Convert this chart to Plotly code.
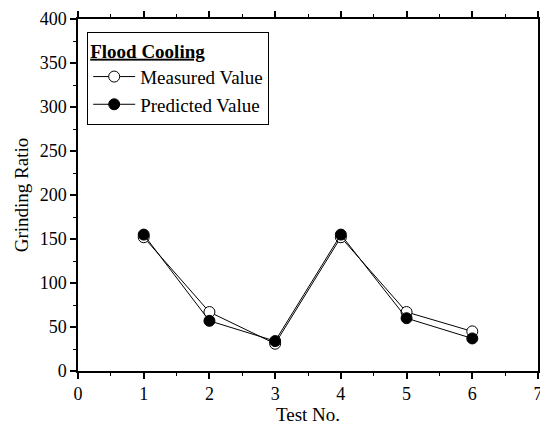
import plotly.graph_objects as go

# Grinding ratio per test, flood cooling
test_no = [1, 2, 3, 4, 5, 6]
measured = [152, 67, 31, 152, 67, 45]
predicted = [155, 57, 34, 155, 60, 37]

FONT = "Liberation Serif, Times New Roman, serif"

fig = go.Figure()
fig.add_trace(go.Scatter(
    x=test_no, y=measured, name="Measured Value", mode="lines+markers",
    line=dict(color="black", width=1),
    marker=dict(symbol="circle", size=11, color="white",
                line=dict(color="black", width=1)),
))
fig.add_trace(go.Scatter(
    x=test_no, y=predicted, name="Predicted Value", mode="lines+markers",
    line=dict(color="black", width=1),
    marker=dict(symbol="circle", size=11, color="black",
                line=dict(color="black", width=1)),
))

fig.update_layout(
    width=540, height=426,
    margin=dict(l=78, r=2, t=19, b=55, autoexpand=False),
    paper_bgcolor="white", plot_bgcolor="white",
    font=dict(family=FONT, size=18, color="black"),
    showlegend=True,
    legend=dict(
        title=dict(text="<b><u>Flood Cooling</u></b>", side="top",
                   font=dict(family=FONT, size=19)),
        x=0.02, y=0.963, xanchor="left", yanchor="top",
        bgcolor="white", bordercolor="black", borderwidth=1,
        font=dict(family=FONT, size=19),
        tracegroupgap=0, itemwidth=42,
    ),
    xaxis=dict(
        range=[0, 7], tickmode="linear", tick0=0, dtick=1,
        showgrid=False, zeroline=False, automargin=False,
        showline=True, linecolor="black", linewidth=1.5, mirror="ticks",
        ticks="outside", ticklen=6, tickwidth=1.5, tickcolor="black",
        minor=dict(dtick=0.5, ticks="outside", ticklen=3, tickwidth=1, tickcolor="black"),
        title=dict(text="Test No.", standoff=2, font=dict(family=FONT, size=19)),
        tickfont=dict(family=FONT, size=18),
        ticklabeloverflow="allow",
    ),
    yaxis=dict(
        range=[0, 400], tickmode="linear", tick0=0, dtick=50,
        showgrid=False, zeroline=False, automargin=False,
        showline=True, linecolor="black", linewidth=1.5, mirror=True,
        ticks="outside", ticklen=6, tickwidth=1.5, tickcolor="black",
        minor=dict(dtick=25, ticks="outside", ticklen=3, tickwidth=1, tickcolor="black"),
        title=dict(text="Grinding Ratio", standoff=6, font=dict(family=FONT, size=19)),
        tickfont=dict(family=FONT, size=18),
    ),
)

fig.write_html("out.html")
